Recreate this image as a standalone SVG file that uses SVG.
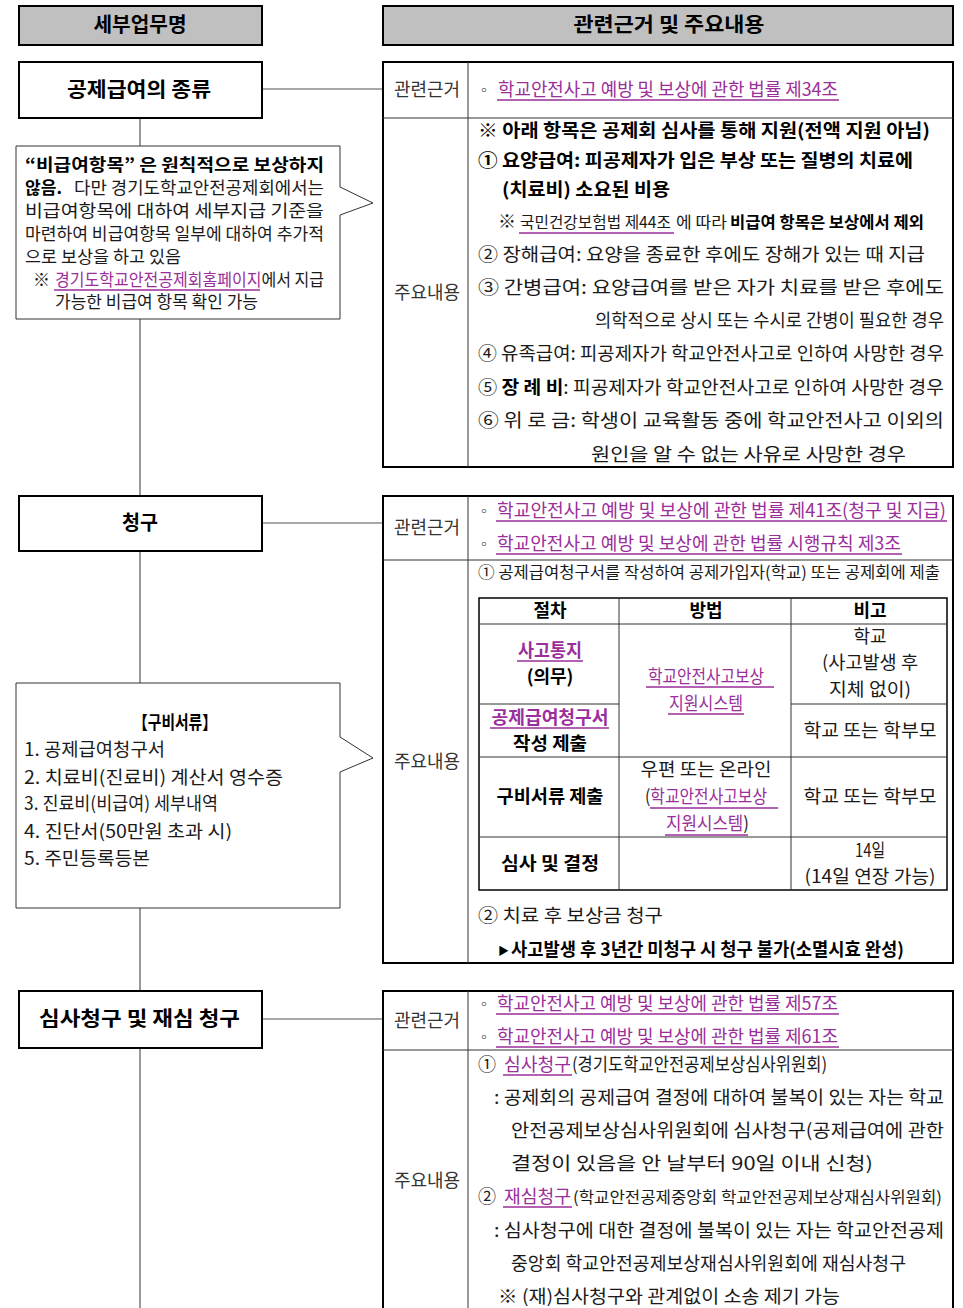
<svg xmlns="http://www.w3.org/2000/svg" width="963" height="1308" viewBox="0 0 963 1308">
<style>
text{font-family:"Noto Sans CJK KR","Noto Sans",sans-serif;font-size:18px;fill:#1a1a1a}
.b{font-weight:bold;fill:#000}
.h{font-size:20px;font-weight:bold;fill:#000}
.s{font-size:17px}
.n{font-size:16px}
.lk{fill:#9a2e9a}
.lbl{fill:#333}
.c{text-anchor:middle}
.ul{stroke:#9a2e9a;stroke-width:1.3}
.box{fill:#fff;stroke:#000;stroke-width:2}
.hdr{fill:#c0c0c0;stroke:#000;stroke-width:2}
.thin{stroke:#333;stroke-width:1;fill:none}
.conn{stroke:#555;stroke-width:1.2;fill:none}
.call{fill:#fff;stroke:#333;stroke-width:1}
</style>
<rect width="963" height="1308" fill="#fff"/>

<g id="connectors">
<line class="conn" x1="140" y1="118" x2="140" y2="146"/>
<line class="conn" x1="140" y1="319" x2="140" y2="496"/>
<line class="conn" x1="140" y1="551" x2="140" y2="683"/>
<line class="conn" x1="140" y1="908" x2="140" y2="991"/>
<line class="conn" x1="140" y1="1048" x2="140" y2="1308"/>
<line class="conn" x1="262" y1="89" x2="383" y2="89"/>
<line class="conn" x1="262" y1="523" x2="383" y2="523"/>
<line class="conn" x1="262" y1="1019" x2="383" y2="1019"/>
</g>

<g id="header-left">
<rect class="hdr" x="19" y="6" width="243" height="39"/>
<text class="h c" x="140" y="32" textLength="93" lengthAdjust="spacingAndGlyphs">세부업무명</text>
</g>
<g id="header-right">
<rect class="hdr" x="383" y="6" width="570" height="39"/>
<text class="h c" x="669" y="32" textLength="191" lengthAdjust="spacingAndGlyphs">관련근거 및 주요내용</text>
</g>

<g id="node-types">
<rect class="box" x="19" y="62" width="243" height="56"/>
<text class="h" x="67" y="97" textLength="144" lengthAdjust="spacingAndGlyphs">공제급여의 종류</text>
</g>

<g id="callout-nonpay">
<path class="call" d="M16,146 H340 V187 L373,203 L340,215 V319 H16 Z"/>
<text class="s b" x="25" y="171" textLength="299" lengthAdjust="spacingAndGlyphs">“비급여항목” 은 원칙적으로 보상하지</text>
<text class="s b" x="25" y="194" textLength="37" lengthAdjust="spacingAndGlyphs">않음.</text>
<text class="s" x="74" y="194" textLength="250" lengthAdjust="spacingAndGlyphs">다만 경기도학교안전공제회에서는</text>
<text class="s" x="25" y="217" textLength="299" lengthAdjust="spacingAndGlyphs">비급여항목에 대하여 세부지급 기준을</text>
<text class="s" x="25" y="240" textLength="299" lengthAdjust="spacingAndGlyphs">마련하여 비급여항목 일부에 대하여 추가적</text>
<text class="s" x="25" y="263" textLength="156" lengthAdjust="spacingAndGlyphs">으로 보상을 하고 있음</text>
<text class="s" x="33" y="286">※</text>
<text class="s" x="55" y="286" textLength="269" lengthAdjust="spacingAndGlyphs"><tspan class="lk">경기도학교안전공제회홈페이지</tspan>에서 지급</text>
<line class="ul" x1="54" y1="290" x2="260" y2="290"/>
<text class="s" x="55" y="308" textLength="203" lengthAdjust="spacingAndGlyphs">가능한 비급여 항목 확인 가능</text>
</g>

<g id="table-types">
<rect class="box" x="383" y="62" width="570" height="405"/>
<line class="thin" x1="468" y1="62" x2="468" y2="467"/>
<line class="thin" x1="383" y1="118" x2="953" y2="118"/>
<text class="lbl" x="394" y="96" textLength="66" lengthAdjust="spacingAndGlyphs">관련근거</text>
<text class="lbl" x="394" y="299" textLength="66" lengthAdjust="spacingAndGlyphs">주요내용</text>
<text x="477" y="95" style="font-size:14px">◦</text>
<text class="lk" x="498" y="96" textLength="340" lengthAdjust="spacingAndGlyphs">학교안전사고 예방 및 보상에 관한 법률 제34조</text>
<line class="ul" x1="497" y1="100" x2="839" y2="100"/>
<text class="b" x="478" y="137" textLength="452" lengthAdjust="spacingAndGlyphs">※ 아래 항목은 공제회 심사를 통해 지원(전액 지원 아님)</text>
<text class="b" x="478" y="167" textLength="435" lengthAdjust="spacingAndGlyphs">① 요양급여: 피공제자가 입은 부상 또는 질병의 치료에</text>
<text class="b" x="502" y="196" textLength="168" lengthAdjust="spacingAndGlyphs">(치료비) 소요된 비용</text>
<text x="498" y="228">※</text>
<text class="n" x="520" y="228" textLength="151" lengthAdjust="spacingAndGlyphs">국민건강보험법 제44조</text>
<line class="ul" x1="519" y1="233" x2="674" y2="233"/>
<text class="n" x="676" y="228" textLength="51" lengthAdjust="spacingAndGlyphs">에 따라</text>
<text class="b n" x="730" y="228" textLength="194" lengthAdjust="spacingAndGlyphs">비급여 항목은 보상에서 제외</text>
<text x="478" y="261" textLength="447" lengthAdjust="spacingAndGlyphs">② 장해급여: 요양을 종료한 후에도 장해가 있는 때 지급</text>
<text x="478" y="294" textLength="466" lengthAdjust="spacingAndGlyphs">③ 간병급여: 요양급여를 받은 자가 치료를 받은 후에도</text>
<text x="595" y="327" textLength="349" lengthAdjust="spacingAndGlyphs">의학적으로 상시 또는 수시로 간병이 필요한 경우</text>
<text x="478" y="360" textLength="466" lengthAdjust="spacingAndGlyphs">④ 유족급여: 피공제자가 학교안전사고로 인하여 사망한 경우</text>
<text x="478" y="394" textLength="466" lengthAdjust="spacingAndGlyphs">⑤ <tspan class="b">장 례 비</tspan>: 피공제자가 학교안전사고로 인하여 사망한 경우</text>
<text x="478" y="427" textLength="466" lengthAdjust="spacingAndGlyphs">⑥ 위 로 금: 학생이 교육활동 중에 학교안전사고 이외의</text>
<text x="591" y="461" textLength="315" lengthAdjust="spacingAndGlyphs">원인을 알 수 없는 사유로 사망한 경우</text>
</g>

<g id="node-claim">
<rect class="box" x="19" y="496" width="243" height="55"/>
<text class="h c" x="140" y="530" textLength="36" lengthAdjust="spacingAndGlyphs">청구</text>
</g>

<g id="callout-docs">
<path class="call" d="M16,683 H340 V737 L373,758 L340,772 V908 H16 Z"/>
<text class="b" x="133" y="729" textLength="84" lengthAdjust="spacingAndGlyphs">【구비서류】</text>
<text x="24" y="756" textLength="141" lengthAdjust="spacingAndGlyphs">1. 공제급여청구서</text>
<text x="24" y="784" textLength="259" lengthAdjust="spacingAndGlyphs">2. 치료비(진료비) 계산서 영수증</text>
<text x="24" y="810" textLength="194" lengthAdjust="spacingAndGlyphs">3. 진료비(비급여) 세부내역</text>
<text x="24" y="838" textLength="208" lengthAdjust="spacingAndGlyphs">4. 진단서(50만원 초과 시)</text>
<text x="24" y="865" textLength="126" lengthAdjust="spacingAndGlyphs">5. 주민등록등본</text>
</g>

<g id="table-claim">
<rect class="box" x="383" y="496" width="570" height="467"/>
<line class="thin" x1="468" y1="496" x2="468" y2="963"/>
<line class="thin" x1="383" y1="560" x2="953" y2="560"/>
<text class="lbl" x="394" y="534" textLength="66" lengthAdjust="spacingAndGlyphs">관련근거</text>
<text class="lbl" x="394" y="768" textLength="66" lengthAdjust="spacingAndGlyphs">주요내용</text>
<text x="477" y="516" style="font-size:14px">◦</text>
<text class="lk" x="497" y="517" textLength="449" lengthAdjust="spacingAndGlyphs">학교안전사고 예방 및 보상에 관한 법률 제41조(청구 및 지급)</text>
<line class="ul" x1="496" y1="521" x2="947" y2="521"/>
<text x="477" y="549" style="font-size:14px">◦</text>
<text class="lk" x="497" y="550" textLength="404" lengthAdjust="spacingAndGlyphs">학교안전사고 예방 및 보상에 관한 법률 시행규칙 제3조</text>
<line class="ul" x1="496" y1="554" x2="902" y2="554"/>
<text class="n" x="478" y="578" textLength="462" lengthAdjust="spacingAndGlyphs">① 공제급여청구서를 작성하여 공제가입자(학교) 또는 공제회에 제출</text>

<rect x="479" y="598" width="468" height="292" fill="none" stroke="#000" stroke-width="1.5"/>
<line class="thin" x1="619" y1="598" x2="619" y2="890"/>
<line class="thin" x1="791" y1="598" x2="791" y2="890"/>
<line class="thin" x1="479" y1="624" x2="947" y2="624"/>
<line class="thin" x1="479" y1="704" x2="619" y2="704"/>
<line class="thin" x1="791" y1="704" x2="947" y2="704"/>
<line class="thin" x1="479" y1="757" x2="947" y2="757"/>
<line class="thin" x1="479" y1="837" x2="947" y2="837"/>

<text class="b c" x="550" y="617">절차</text>
<text class="b c" x="706" y="617">방법</text>
<text class="b c" x="870" y="617">비고</text>

<text class="b c lk" x="550" y="657" textLength="64" lengthAdjust="spacingAndGlyphs">사고통지</text>
<line class="ul" x1="517" y1="661" x2="583" y2="661"/>
<text class="b c" x="550" y="683">(의무)</text>
<text class="c lk" x="706" y="683" textLength="116" lengthAdjust="spacingAndGlyphs">학교안전사고보상</text>
<line class="ul" x1="646" y1="687" x2="774" y2="687"/>
<text class="c lk" x="706" y="710" textLength="74" lengthAdjust="spacingAndGlyphs">지원시스템</text>
<line class="ul" x1="668" y1="714" x2="744" y2="714"/>
<text class="c" x="870" y="643">학교</text>
<text class="c" x="870" y="669" textLength="96" lengthAdjust="spacingAndGlyphs">(사고발생 후</text>
<text class="c" x="870" y="696" textLength="82" lengthAdjust="spacingAndGlyphs">지체 없이)</text>

<text class="b c lk" x="550" y="724" textLength="117" lengthAdjust="spacingAndGlyphs">공제급여청구서</text>
<line class="ul" x1="490" y1="728" x2="609" y2="728"/>
<text class="b c" x="550" y="750" textLength="74" lengthAdjust="spacingAndGlyphs">작성 제출</text>
<text class="c" x="870" y="737" textLength="133" lengthAdjust="spacingAndGlyphs">학교 또는 학부모</text>

<text class="b c" x="550" y="803" textLength="107" lengthAdjust="spacingAndGlyphs">구비서류 제출</text>
<text class="c" x="706" y="776" textLength="131" lengthAdjust="spacingAndGlyphs">우편 또는 온라인</text>
<text x="645" y="803" textLength="122" lengthAdjust="spacingAndGlyphs">(<tspan class="lk">학교안전사고보상</tspan></text>
<line class="ul" x1="650" y1="808" x2="778" y2="808"/>
<text x="666" y="830" textLength="83" lengthAdjust="spacingAndGlyphs"><tspan class="lk">지원시스템</tspan>)</text>
<line class="ul" x1="665" y1="835" x2="748" y2="835"/>
<text class="c" x="870" y="803" textLength="133" lengthAdjust="spacingAndGlyphs">학교 또는 학부모</text>

<text class="b c" x="550" y="870" textLength="98" lengthAdjust="spacingAndGlyphs">심사 및 결정</text>
<text class="c" x="870" y="857" textLength="30" lengthAdjust="spacingAndGlyphs">14일</text>
<text class="c" x="870" y="883" textLength="131" lengthAdjust="spacingAndGlyphs">(14일 연장 가능)</text>

<text x="478" y="922" textLength="185" lengthAdjust="spacingAndGlyphs">② 치료 후 보상금 청구</text>
<text x="498" y="955" style="font-size:11px;fill:#000">▶</text>
<text class="b" x="511" y="956" textLength="393" lengthAdjust="spacingAndGlyphs">사고발생 후 3년간 미청구 시 청구 불가(소멸시효 완성)</text>
</g>

<g id="node-review">
<rect class="box" x="19" y="991" width="243" height="57"/>
<text class="h" x="39" y="1026" textLength="201" lengthAdjust="spacingAndGlyphs">심사청구 및 재심 청구</text>
</g>

<g id="table-review">
<path d="M383,1320 V991 H953 V1320" fill="none" stroke="#000" stroke-width="2"/>
<line class="thin" x1="468" y1="991" x2="468" y2="1308"/>
<line class="thin" x1="383" y1="1050" x2="953" y2="1050"/>
<text class="lbl" x="394" y="1027" textLength="66" lengthAdjust="spacingAndGlyphs">관련근거</text>
<text class="lbl" x="394" y="1187" textLength="66" lengthAdjust="spacingAndGlyphs">주요내용</text>
<text x="477" y="1009" style="font-size:14px">◦</text>
<text class="lk" x="497" y="1010" textLength="341" lengthAdjust="spacingAndGlyphs">학교안전사고 예방 및 보상에 관한 법률 제57조</text>
<line class="ul" x1="496" y1="1014" x2="839" y2="1014"/>
<text x="477" y="1042" style="font-size:14px">◦</text>
<text class="lk" x="497" y="1043" textLength="341" lengthAdjust="spacingAndGlyphs">학교안전사고 예방 및 보상에 관한 법률 제61조</text>
<line class="ul" x1="496" y1="1047" x2="839" y2="1047"/>
<text x="478" y="1071">①</text>
<text class="lk" x="504" y="1071" textLength="67" lengthAdjust="spacingAndGlyphs">심사청구</text>
<line class="ul" x1="503" y1="1075" x2="572" y2="1075"/>
<text x="572" y="1071" textLength="255" lengthAdjust="spacingAndGlyphs">(경기도학교안전공제보상심사위원회)</text>
<text x="494" y="1104" textLength="450" lengthAdjust="spacingAndGlyphs">: 공제회의 공제급여 결정에 대하여 불복이 있는 자는 학교</text>
<text x="511" y="1137" textLength="433" lengthAdjust="spacingAndGlyphs">안전공제보상심사위원회에 심사청구(공제급여에 관한</text>
<text x="511" y="1170" textLength="362" lengthAdjust="spacingAndGlyphs">결정이 있음을 안 날부터 90일 이내 신청)</text>
<text x="478" y="1203">②</text>
<text class="lk" x="504" y="1203" textLength="67" lengthAdjust="spacingAndGlyphs">재심청구</text>
<line class="ul" x1="503" y1="1207" x2="572" y2="1207"/>
<text class="n" x="573" y="1203" textLength="369" lengthAdjust="spacingAndGlyphs">(학교안전공제중앙회 학교안전공제보상재심사위원회)</text>
<text x="494" y="1237" textLength="450" lengthAdjust="spacingAndGlyphs">: 심사청구에 대한 결정에 불복이 있는 자는 학교안전공제</text>
<text x="511" y="1270" textLength="395" lengthAdjust="spacingAndGlyphs">중앙회 학교안전공제보상재심사위원회에 재심사청구</text>
<text x="498" y="1303" textLength="342" lengthAdjust="spacingAndGlyphs">※ (재)심사청구와 관계없이 소송 제기 가능</text>
</g>
</svg>
